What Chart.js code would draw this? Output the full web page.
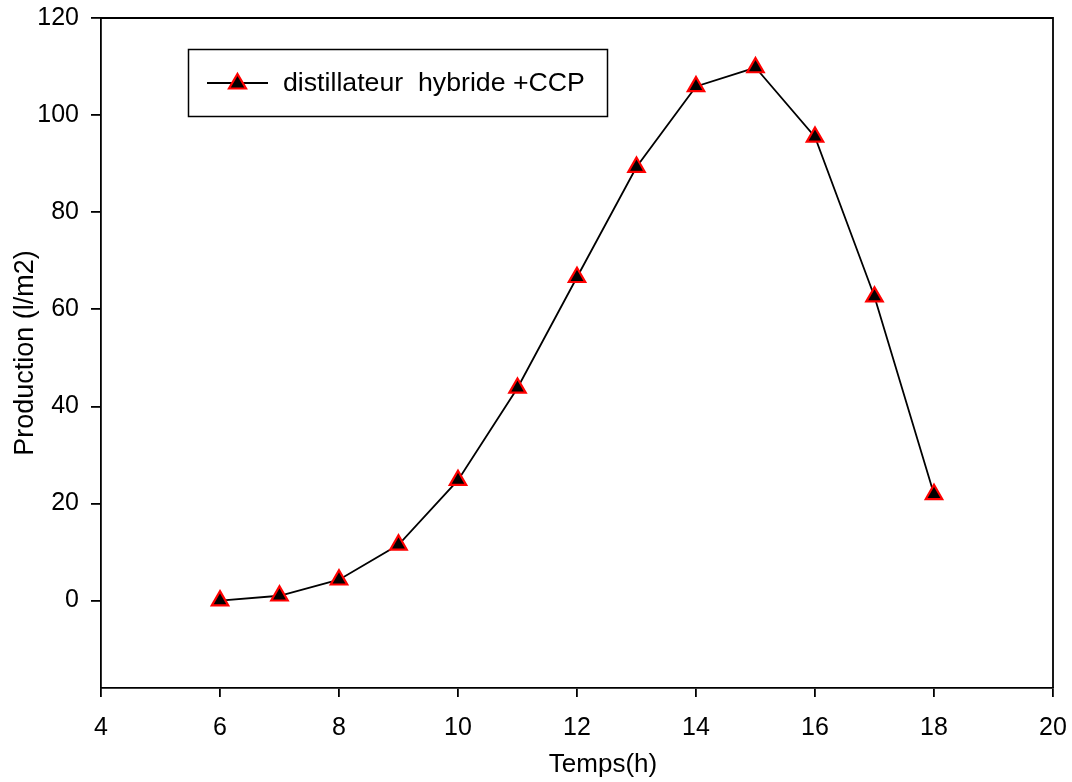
<!DOCTYPE html>
<html>
<head>
<meta charset="utf-8">
<script src="https://cdn.jsdelivr.net/npm/chart.js@4"></script>
<style>
  html, body { margin: 0; padding: 0; background: #fff; }
  #wrap { width: 1072px; height: 782px; }
</style>
</head>
<body>
<div id="wrap"><canvas id="chart"></canvas></div>
<script>
const hours = [6, 7, 8, 9, 10, 11, 12, 13, 14, 15, 16, 17, 18];
const production = [0, 1.0, 4.3, 11.5, 24.8, 43.8, 66.6, 89.3, 105.9, 109.8, 95.5, 62.6, 21.9];
const xTicks = [4, 6, 8, 10, 12, 14, 16, 18, 20];
const yTicks = [0, 20, 40, 60, 80, 100, 120];
const seriesLabel = 'distillateur  hybride +CCP';
const xTitle = 'Temps(h)';
const yTitle = 'Production (l/m2)';

const FONT = '"Liberation Sans", Arial, sans-serif';

// frame (top and right edges), x title and boxed legend
const framePlugin = {
  id: 'frame',
  afterDraw(chart) {
    const { ctx, chartArea: a } = chart;
    ctx.save();
    ctx.strokeStyle = '#000';
    ctx.lineWidth = 1.8;
    ctx.beginPath();
    ctx.moveTo(a.left, a.top);
    ctx.lineTo(a.right, a.top);
    ctx.lineTo(a.right, a.bottom);
    ctx.stroke();

    // x axis title (sits a bit right of centre in the original)
    ctx.fillStyle = '#000';
    ctx.font = '26px ' + FONT;
    ctx.textAlign = 'center';
    ctx.textBaseline = 'middle';
    ctx.fillText(xTitle, 603, 765);

    // legend
    ctx.lineWidth = 1.5;
    ctx.strokeRect(188.5, 49.5, 419, 67);
    ctx.lineWidth = 1.8;
    ctx.beginPath();
    ctx.moveTo(207, 83);
    ctx.lineTo(268, 83);
    ctx.stroke();
    ctx.beginPath();
    ctx.moveTo(237.5, 74);
    ctx.lineTo(246, 88.5);
    ctx.lineTo(229, 88.5);
    ctx.closePath();
    ctx.fillStyle = '#000';
    ctx.fill();
    ctx.strokeStyle = '#ff0000';
    ctx.lineWidth = 2.2;
    ctx.stroke();
    ctx.fillStyle = '#000';
    ctx.font = '26.7px ' + FONT;
    ctx.textAlign = 'left';
    ctx.fillText(seriesLabel, 283, 84);
    ctx.restore();
  }
};

new Chart(document.getElementById('chart'), {
  type: 'line',
  data: {
    datasets: [{
      label: seriesLabel,
      data: hours.map((h, i) => ({ x: h, y: production[i] })),
      borderColor: '#000',
      borderWidth: 1.8,
      pointStyle: 'triangle',
      pointRadius: 9.5,
      pointBackgroundColor: '#000',
      pointBorderColor: '#ff0000',
      pointBorderWidth: 2.2,
      tension: 0
    }]
  },
  options: {
    responsive: true,
    maintainAspectRatio: false,
    animation: false,
    layout: { padding: { top: 18, right: 19, left: 0, bottom: 0 } },
    plugins: {
      legend: { display: false },
      tooltip: { enabled: false }
    },
    scales: {
      x: {
        type: 'linear',
        min: 4,
        max: 20,
        afterBuildTicks: (s) => { s.ticks = xTicks.map(v => ({ value: v })); },
        afterFit: (s) => { s.height = 94; s.paddingLeft = 0; s.paddingRight = 0; },
        border: { color: '#000', width: 1.8 },
        grid: { drawOnChartArea: false, tickLength: 9, color: '#000', lineWidth: 1.8 },
        ticks: { color: '#000', padding: 16, font: { family: FONT, size: 25 }, maxRotation: 0 },
        title: { display: false }
      },
      y: {
        type: 'linear',
        min: -18,
        max: 120,
        afterBuildTicks: (s) => { s.ticks = yTicks.map(v => ({ value: v })); },
        afterFit: (s) => { s.width = 101; s.paddingTop = 0; s.paddingBottom = 0; },
        border: { color: '#000', width: 1.8 },
        grid: { drawOnChartArea: false, tickLength: 10, color: '#000', lineWidth: 1.8 },
        ticks: { color: '#000', padding: 12, font: { family: FONT, size: 25 } },
        title: { display: true, text: yTitle, color: '#000', font: { family: FONT, size: 27 }, padding: { top: 9, bottom: 0 } }
      }
    }
  },
  plugins: [framePlugin]
});
</script>
</body>
</html>
